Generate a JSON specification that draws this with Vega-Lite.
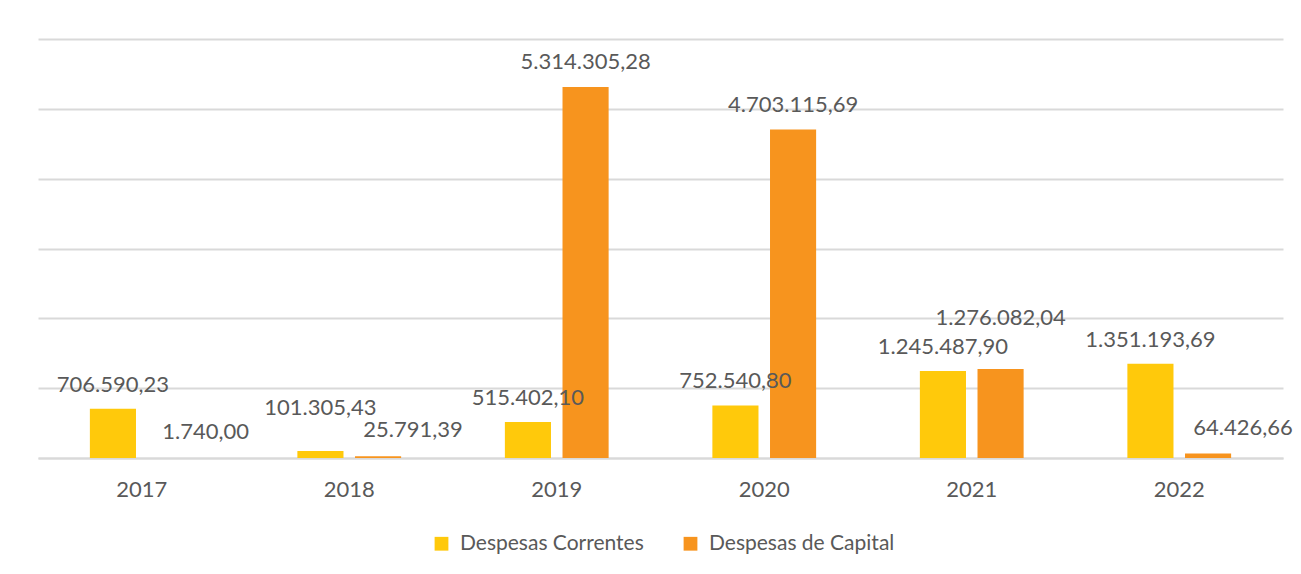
{
  "$schema": "https://vega.github.io/schema/vega-lite/v6.json",
  "width": 1245,
  "height": 419,
  "autosize": {"type": "none"},
  "padding": {"left": 38, "top": 39, "right": 18, "bottom": 116},
  "background": "white",
  "config": {
    "locale": {"number": {"decimal": ",", "thousands": ".", "grouping": [3], "currency": ["R$", ""]}},
    "view": {"stroke": null},
    "font": "Lato",
    "text": {"baseline": "alphabetic", "fontSize": 22, "color": "#595959", "font": "Lato"}
  },
  "data": {
    "values": [
      {"ano": "2017", "tipo": "Despesas Correntes", "valor": 706590.23},
      {"ano": "2017", "tipo": "Despesas de Capital", "valor": 1740.00},
      {"ano": "2018", "tipo": "Despesas Correntes", "valor": 101305.43},
      {"ano": "2018", "tipo": "Despesas de Capital", "valor": 25791.39},
      {"ano": "2019", "tipo": "Despesas Correntes", "valor": 515402.10},
      {"ano": "2019", "tipo": "Despesas de Capital", "valor": 5314305.28},
      {"ano": "2020", "tipo": "Despesas Correntes", "valor": 752540.80},
      {"ano": "2020", "tipo": "Despesas de Capital", "valor": 4703115.69},
      {"ano": "2021", "tipo": "Despesas Correntes", "valor": 1245487.90},
      {"ano": "2021", "tipo": "Despesas de Capital", "valor": 1276082.04},
      {"ano": "2022", "tipo": "Despesas Correntes", "valor": 1351193.69},
      {"ano": "2022", "tipo": "Despesas de Capital", "valor": 64426.66}
    ]
  },
  "encoding": {
    "x": {
      "field": "ano", "type": "nominal",
      "scale": {"paddingInner": 0.5, "paddingOuter": 0.25},
      "axis": {
        "title": null, "labelAngle": 0, "labelFontSize": 22, "labelColor": "#595959",
        "labelFont": "Lato", "labelPadding": 21, "ticks": false,
        "domainColor": "#D9D9D9", "domainWidth": 2
      }
    },
    "xOffset": {
      "field": "tipo", "type": "nominal",
      "scale": {"domain": ["Despesas Correntes", "Despesas de Capital"], "paddingInner": 0.2}
    },
    "y": {
      "field": "valor", "type": "quantitative",
      "scale": {"domain": [0, 6000000], "nice": false},
      "axis": {
        "title": null, "labels": false, "ticks": false, "domain": false,
        "values": [0, 1000000, 2000000, 3000000, 4000000, 5000000, 6000000],
        "gridColor": "#D9D9D9", "gridWidth": 2
      }
    },
    "text": {"field": "valor", "type": "quantitative", "format": ",.2f"}
  },
  "layer": [
    {
      "mark": {"type": "bar"},
      "encoding": {
        "text": null,
        "color": {
          "field": "tipo", "type": "nominal",
          "scale": {"domain": ["Despesas Correntes", "Despesas de Capital"], "range": ["#FFC90B", "#F7941E"]},
          "legend": {
            "title": null, "orient": "none", "direction": "horizontal",
            "legendX": 393, "legendY": 494,
            "symbolType": "square", "symbolSize": 190, "symbolStrokeWidth": 0,
            "labelFontSize": 21, "labelColor": "#595959", "labelFont": "Lato", "labelLimit": 0,
            "labelOffset": 8, "columnPadding": 36, "padding": 0
          }
        }
      }
    },
    {
      "transform": [{"filter": "datum.tipo === 'Despesas Correntes' && datum.valor >= 200000"}],
      "mark": {"type": "text", "dy": -17}
    },
    {
      "transform": [{"filter": "datum.tipo === 'Despesas Correntes' && datum.valor < 200000"}],
      "mark": {"type": "text", "dy": -36}
    },
    {
      "transform": [{"filter": "datum.tipo === 'Despesas de Capital' && datum.valor < 100000"}],
      "mark": {"type": "text", "dy": -19, "dx": 35}
    },
    {
      "transform": [{"filter": "datum.tipo === 'Despesas de Capital' && datum.valor >= 3000000"}],
      "mark": {"type": "text", "dy": -18}
    },
    {
      "transform": [{"filter": "datum.tipo === 'Despesas de Capital' && datum.valor >= 100000 && datum.valor < 3000000"}],
      "mark": {"type": "text", "dy": -44}
    }
  ]
}
